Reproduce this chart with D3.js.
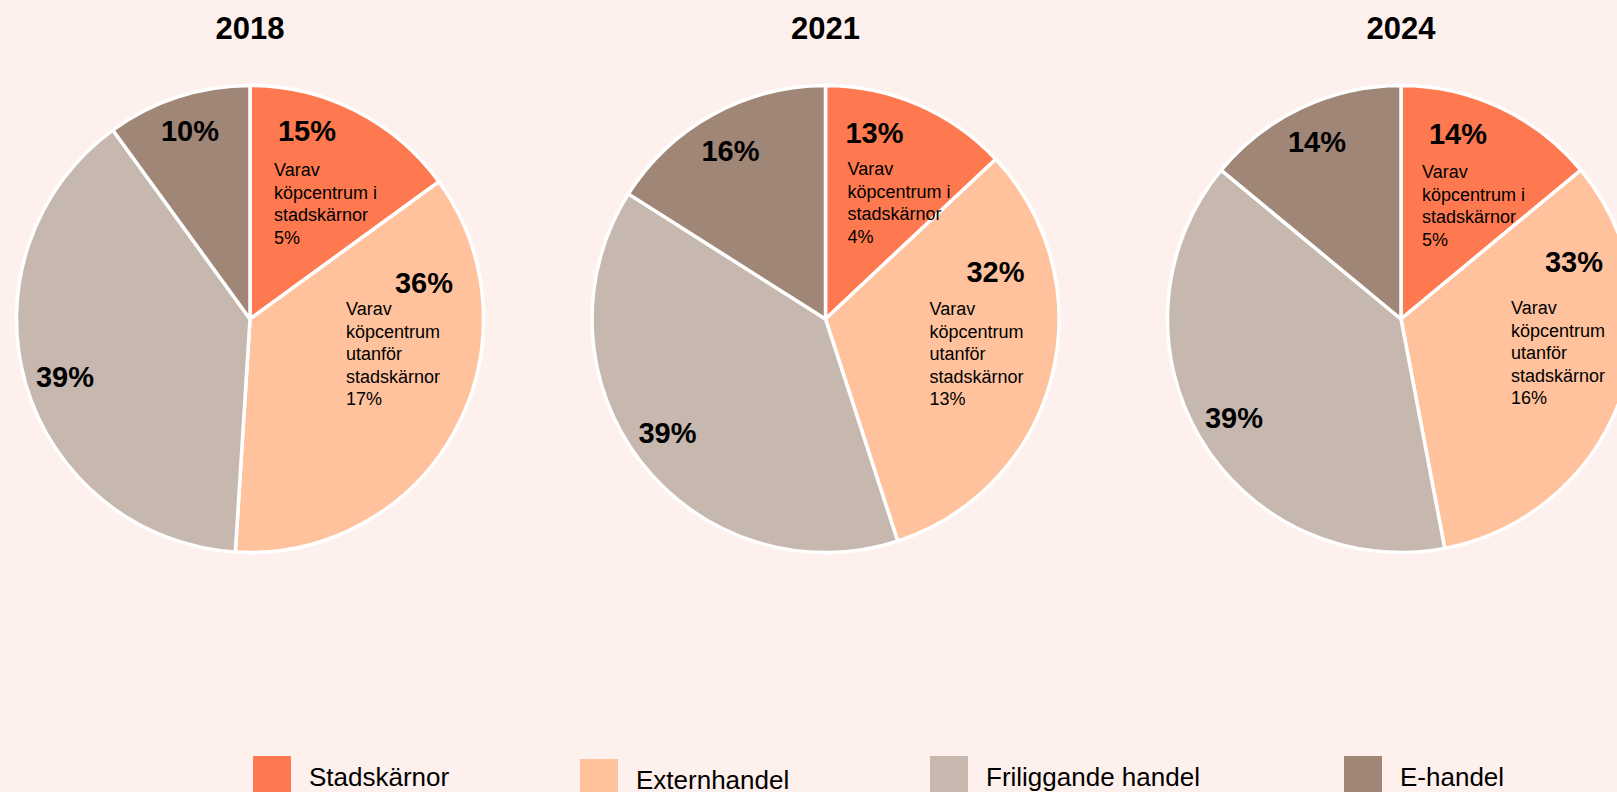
<!DOCTYPE html>
<html>
<head>
<meta charset="utf-8">
<script src="https://cdn.jsdelivr.net/npm/d3@7"></script>
<style>
  body { margin: 0; background: #fef0ec; }
  svg { display: block; font-family: Arial, "Liberation Sans", sans-serif; }
</style>
</head>
<body>
<div id="chart"></div>
<script>
// share of retail sales by location, three years
const years = ["2018", "2021", "2024"];
const categories = ["Stadskärnor", "Externhandel", "Friliggande handel", "E-handel"];
const share2018 = [15, 36, 39, 10];
const share2021 = [13, 32, 39, 16];
const share2024 = [14, 33, 39, 14];
const mallsInCity = [5, 4, 5];      // "Varav köpcentrum i stadskärnor"
const mallsOutside = [17, 13, 16];  // "Varav köpcentrum utanför stadskärnor"

// layout only (hand-placed labels, as in the original)
const colors = ["#ff7950", "#ffc29d", "#c6b8af", "#a08677"];
const pctOffsets = [
    [[57, -178], [174, -26], [-185, 68], [-60, -178]],
    [[49, -176], [170, -37], [-158, 124], [-95, -158]],
    [[57, -175], [173, -47], [-167, 109], [-84, -167]]
];
const noteInOffsets = [[24, -143], [22, -144], [21, -141]];
const noteOutOffsets = [[96, -4], [104, -4], [110, -5]];
const legendX = [253, 580, 930, 1344];

const width = 1617, height = 792, radius = 233.5, lineH = 22.6;
const shares = [share2018, share2021, share2024];

const svg = d3.select("#chart").append("svg")
    .attr("width", width)
    .attr("height", height);

svg.append("rect").attr("width", width).attr("height", height).attr("fill", "#fef0ec");

const x = d3.scalePoint().domain(years).range([250, 1401]);
const cy = 319;

const pie = d3.pie().sort(null).value(d => d);
const arc = d3.arc().innerRadius(0).outerRadius(radius);

years.forEach(function(year, i) {
    let g = svg.append("g").attr("transform", "translate(" + x(year) + "," + cy + ")");

    // slices
    g.selectAll(".slice")
        .data(pie(shares[i]))
        .enter().append("path")
        .attr("class", "slice")
        .attr("d", arc)
        .attr("fill", (d, j) => colors[j])
        .attr("stroke", "#fff")
        .attr("stroke-width", 3.5)
        .attr("stroke-linejoin", "round");

    // year title
    svg.append("text")
        .attr("x", x(year))
        .attr("y", 39)
        .attr("text-anchor", "middle")
        .attr("font-size", 31)
        .attr("font-weight", "bold")
        .text(year);

    // percent labels
    g.selectAll(".pct")
        .data(shares[i])
        .enter().append("text")
        .attr("class", "pct")
        .attr("x", (d, j) => pctOffsets[i][j][0])
        .attr("y", (d, j) => pctOffsets[i][j][1])
        .attr("text-anchor", "middle")
        .attr("font-size", 29)
        .attr("font-weight", "bold")
        .text(d => d + "%");

    // sub notes
    let notes = [
        { lines: ["Varav", "köpcentrum i", "stadskärnor", mallsInCity[i] + "%"], off: noteInOffsets[i] },
        { lines: ["Varav", "köpcentrum", "utanför", "stadskärnor", mallsOutside[i] + "%"], off: noteOutOffsets[i] }
    ];
    notes.forEach(function(n) {
        let t = g.append("text")
            .attr("font-size", 18)
            .attr("fill", "#000");
        n.lines.forEach(function(line, k) {
            t.append("tspan")
                .attr("x", n.off[0])
                .attr("y", n.off[1] + k * lineH)
                .text(line);
        });
    });
});

// legend
let legend = svg.selectAll(".legend")
    .data(categories)
    .enter().append("g")
    .attr("class", "legend")
    .attr("transform", (d, j) => "translate(" + legendX[j] + "," + (j === 1 ? 759 : 756) + ")");

legend.append("rect")
    .attr("width", 38)
    .attr("height", 38)
    .attr("fill", (d, j) => colors[j]);

legend.append("text")
    .attr("x", 56)
    .attr("y", 30)
    .attr("font-size", 26)
    .text(d => d);
</script>
</body>
</html>
